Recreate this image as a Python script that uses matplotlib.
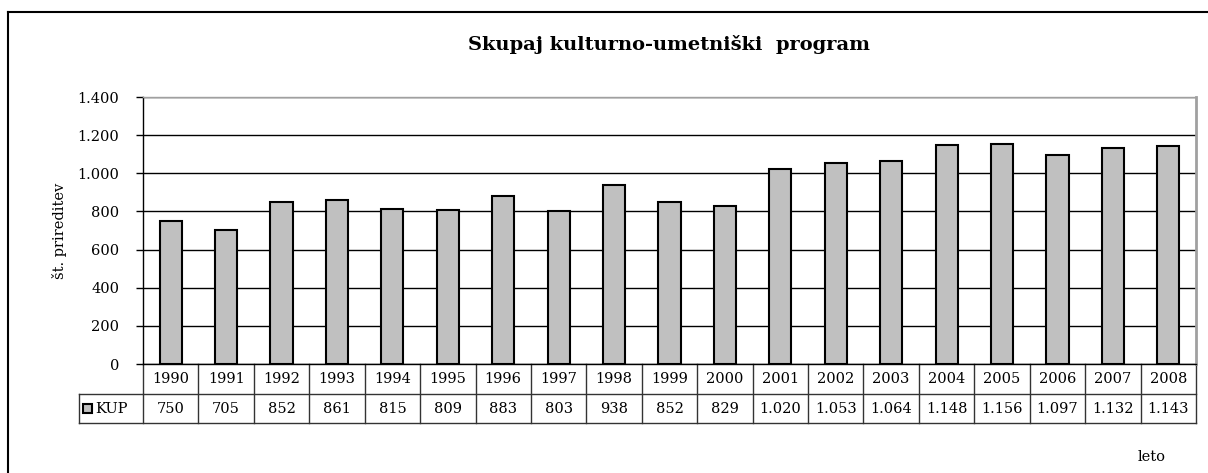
import matplotlib.pyplot as plt
import numpy as np
from matplotlib.patches import Rectangle
from matplotlib.lines import Line2D
from matplotlib.transforms import blended_transform_factory

years = ['1990', '1991', '1992', '1993', '1994', '1995', '1996', '1997', '1998', '1999',
         '2000', '2001', '2002', '2003', '2004', '2005', '2006', '2007', '2008']
kup = [750, 705, 852, 861, 815, 809, 883, 803, 938, 852,
       829, 1020, 1053, 1064, 1148, 1156, 1097, 1132, 1143]
series_name = 'KUP'
yticks = [0, 200, 400, 600, 800, 1000, 1200, 1400]

plt.rcParams['font.family'] = ['DejaVu Serif']

W, H = 1208, 473
fig = plt.figure(figsize=(W/100, H/100), dpi=100)

# outer chart border (only top and left visible)
fig.add_artist(Line2D([8/W, 8/W], [0, 1-12/H], transform=fig.transFigure, color='black', lw=1.5))
fig.add_artist(Line2D([8/W, 1], [1-12/H, 1-12/H], transform=fig.transFigure, color='black', lw=1.5))

left, right, top, bottom = 143, 1196, 97, 364
ax = fig.add_axes([left/W, 1-bottom/H, (right-left)/W, (bottom-top)/H])

def fmt(v):
    return '{:,}'.format(v).replace(',', '.')

n = len(years)
x = np.arange(n)
ax.bar(x, kup, width=0.4, color='#c0c0c0', edgecolor='black', linewidth=1.5, zorder=3)
ax.set_xlim(-0.5, n-0.5)
ax.set_ylim(0, 1400)
ax.set_yticks(yticks)
ax.set_yticklabels([fmt(v) for v in yticks], fontsize=10.5)
ax.set_xticks([])
ax.yaxis.grid(True, color='black', lw=1, zorder=0)
ax.tick_params(axis='y', length=5, width=1, pad=12, direction='out')
for s in ['top', 'right']:
    ax.spines[s].set_color('#a0a0a0')
ax.spines['top'].set_linewidth(1)
ax.spines['right'].set_linewidth(2)
ax.spines['left'].set_linewidth(1)
ax.spines['bottom'].set_linewidth(1)

# data table below the axis: x in data units, y in axes fraction
tr = blended_transform_factory(ax.transData, ax.transAxes)
axh = bottom - top
colw = (right - left) / n
lab = 64 / colw
r1 = -30 / axh
r2 = -59 / axh
lc = '#333333'
kw = dict(transform=tr, color=lc, lw=1, clip_on=False)
ax.plot([-0.5, n-0.5], [r1, r1], **kw)
ax.plot([-0.5-lab, n-0.5], [r2, r2], **kw)
ax.plot([-0.5-lab, -0.5], [r1, r1], **kw)
ax.plot([-0.5-lab, -0.5-lab], [r1, r2], **kw)
for b in np.arange(n+1) - 0.5:
    ax.plot([b, b], [0, r2], **kw)
for i in range(n):
    ax.text(x[i], r1/2, years[i], transform=tr, ha='center', va='center', fontsize=10.5)
    ax.text(x[i], (r1+r2)/2, fmt(kup[i]), transform=tr, ha='center', va='center', fontsize=10.5)
ax.text(-0.5-lab+0.3, (r1+r2)/2, series_name, transform=tr, ha='left', va='center', fontsize=10.5)

# legend key in the label cell
ax.add_patch(Rectangle((-0.5-lab+0.08, (r1+r2)/2-4.5/axh), 9/colw, 9/axh,
                       transform=tr, facecolor='#c0c0c0', edgecolor='black',
                       lw=1.5, clip_on=False, zorder=5))

fig.text((left+right)/2/W, 1-45/H, 'Skupaj kulturno-umetniški  program',
         ha='center', va='center', fontsize=14, fontweight='bold')
fig.text(60/W, 1-(top+bottom)/2/H, 'št. prireditev', rotation=90,
         ha='center', va='center', fontsize=10.5)
fig.text(1152/W, 1-457/H, 'leto', ha='center', va='center', fontsize=10.5)

fig.savefig('out.png', dpi=100)
